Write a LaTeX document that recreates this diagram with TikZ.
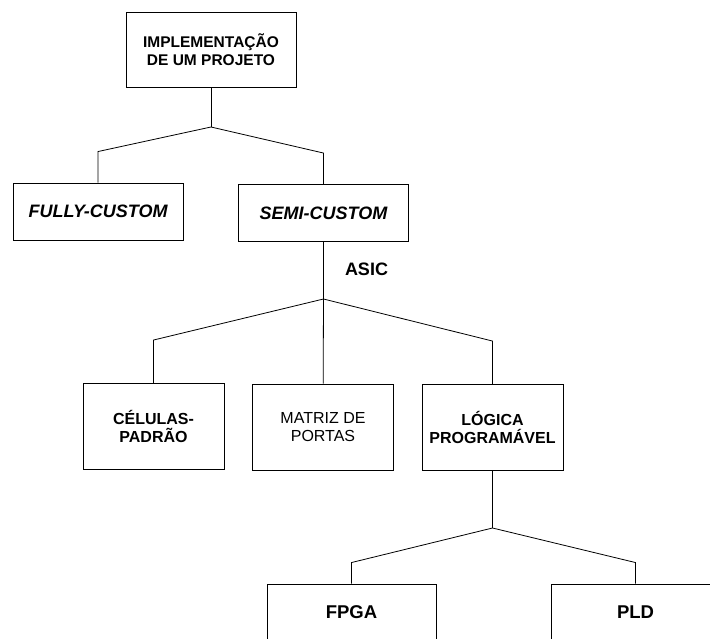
\documentclass[tikz,border=0pt]{standalone}
\usepackage{fontspec}
\setmainfont{Liberation Sans}
\usetikzlibrary{positioning}

\begin{document}
\begin{tikzpicture}[
  x=1pt, y=-1pt,
  box/.style={draw, line width=0.9pt, align=center, inner sep=0pt},
  rootbox/.style={box, minimum width=170pt, minimum height=75pt, font=\bfseries\fontsize{15.5}{18}\selectfont},
  style2/.style={box, minimum width=170pt, minimum height=57pt, font=\bfseries\itshape\fontsize{18}{21}\selectfont},
  style3/.style={box, minimum width=141pt, minimum height=86pt, font=\bfseries\fontsize{16}{18}\selectfont},
  style3light/.style={style3, font=\fontsize{16}{18}\selectfont},
  device/.style={box, minimum width=169pt, minimum height=56pt, font=\bfseries\fontsize{18.5}{21}\selectfont},
  link/.style={line width=0.8pt}
]
\useasboundingbox (0,0) rectangle (710,639);

\node[rootbox] (projeto) at (211,49.5) {IMPLEMENTAÇÃO\\DE UM PROJETO};

\node[style2] (fully) at (98,211.5) {FULLY-CUSTOM};
\node[style2] (semi) at (323.5,213) {SEMI-CUSTOM};
\node[font=\bfseries\fontsize{18}{21}\selectfont] (asic) at (366.5,269.5) {ASIC};

\node[style3] (celulas) at (153.5,426.5) {CÉLULAS-\\PADRÃO};
\node[style3light] (matriz) at (323,427) {MATRIZ DE\\PORTAS};
\node[style3] (logica) at (492.5,427.5) {LÓGICA\\PROGRAMÁVEL};

\node[device] (fpga) at (351.5,612) {FPGA};
\node[device] (pld) at (635.5,612) {PLD};

\coordinate (j1) at (211,127);
\coordinate (j2) at (semi.south |- 0,299);
\coordinate (j3) at (logica.south |- 0,528);

% ramos
\draw[link] (projeto) -- (j1);
\draw[link] (j1) -- ([yshift=31pt]fully.north) -- (fully.north);
\draw[link] (j1) -- ([yshift=31pt]semi.north) -- (semi.north);

\draw[link] (semi) -- (j2);
\draw[link] (j2) -- ([yshift=43pt]celulas.north) -- (celulas.north);
\draw[link] (j2) -- (matriz);
\draw[link] (j2) -- ([yshift=43pt]logica.north) -- (logica.north);

\draw[link] (logica) -- (j3);
\draw[link] (j3) -- ([yshift=21pt]fpga.north) -- (fpga.north);
\draw[link] (j3) -- ([yshift=21pt]pld.north) -- (pld.north);
\end{tikzpicture}
\end{document}
